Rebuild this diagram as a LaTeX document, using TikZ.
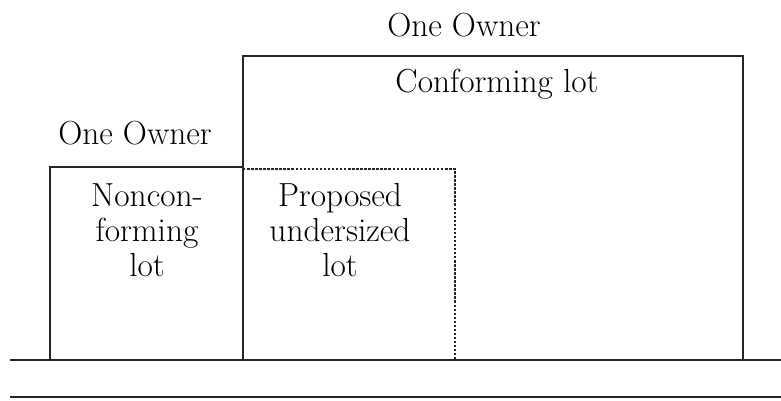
\documentclass[tikz,border=0pt]{standalone}
\usepackage{tikz}

\begin{document}
\begin{tikzpicture}[x=0.02cm,y=-0.02cm]
\tikzset{lbl/.style={font=\fontsize{19}{20}\selectfont, align=center, inner sep=0pt},
         lotline/.style={line width=1.3pt, draw=black!85},
         splitline/.style={line width=1.6pt, draw=black!85, dash pattern=on 1.4pt off 0.9pt}}
\useasboundingbox (0,0) rectangle (781,401);
% lot corners
\coordinate (nl) at (50,360);
\coordinate (nt) at (243,167);
\coordinate (cl) at (243,360);
\coordinate (ct) at (743,56);
\coordinate (pt) at (243,169);
\coordinate (pr) at (455,360);
% street
\coordinate (s1) at (10,360);
\coordinate (s2) at (781,360);
\coordinate (s3) at (10,397);
\coordinate (s4) at (781,397);
\draw [lotline] (s1) -- (s2);
\draw [lotline] (s3) -- (s4);
\draw [lotline] (nl) rectangle (nt);
\draw [lotline] (cl) rectangle (ct);
\draw [splitline] (pt) -| (pr);
% labels
\node [lbl] (own1) at (464,25) {One Owner};
\node [lbl] (own2) at (135,133) {One Owner};
\node [lbl] (conf) at (497,84) {Conforming lot};
\node [lbl, anchor=north] (noncf) at (147,183) {Noncon-\\forming\\lot};
\node [lbl, anchor=north] (prop) at (340,183) {Proposed\\undersized\\lot};
\end{tikzpicture}
\end{document}
